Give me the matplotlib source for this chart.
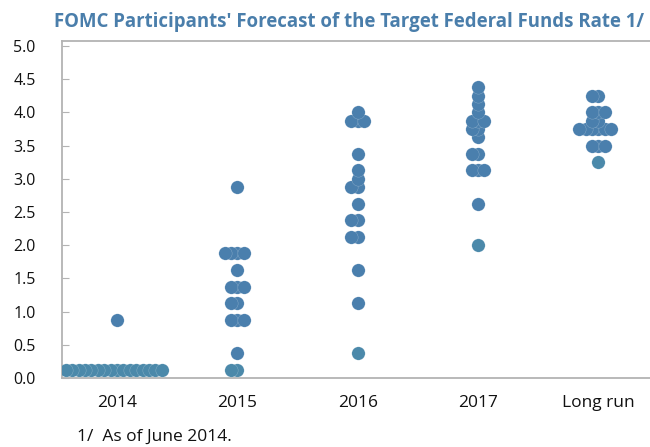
import numpy as np
import matplotlib.pyplot as plt

plt.rcParams["font.family"] = ["Open Sans", "DejaVu Sans"]

# categories and forecasts (rate level, number of participants)
categories = ["2014", "2015", "2016", "2017", "Long run"]

levels_2014 = [0.125, 0.875]
counts_2014 = [16, 1]

levels_2015 = [0.125, 0.375, 0.875, 1.125, 1.375, 1.625, 1.875, 2.875]
counts_2015 = [2, 1, 3, 2, 3, 1, 4, 1]

levels_2016 = [0.375, 1.125, 1.625, 2.125, 2.375, 2.625, 2.875, 3.0, 3.125, 3.375, 3.875, 4.0]
counts_2016 = [1, 1, 1, 2, 2, 1, 2, 1, 1, 1, 3, 1]

levels_2017 = [2.0, 2.625, 3.125, 3.375, 3.625, 3.75, 3.875, 4.0, 4.125, 4.25, 4.375]
counts_2017 = [1, 1, 3, 2, 1, 2, 3, 1, 1, 1, 1]

levels_lr = [3.25, 3.5, 3.75, 3.875, 4.0, 4.25]
counts_lr = [1, 3, 6, 2, 3, 2]

yticks = [0.0, 0.5, 1.0, 1.5, 2.0, 2.5, 3.0, 3.5, 4.0, 4.5, 5.0]

all_levels = [levels_2014, levels_2015, levels_2016, levels_2017, levels_lr]
all_counts = [counts_2014, counts_2015, counts_2016, counts_2017, counts_lr]

dot_color = "#4a7fad"
low_color = "#4b89aa"
title_color = "#4a7eab"
spine_color = "#b3b3b3"
step = 0.053  # horizontal spacing between dots sharing a level

fig = plt.figure(figsize=(6.5, 4.47), dpi=100)
ax = fig.add_axes([0.0954, 0.1544, 0.9046, 0.7539])

for i, (levels, counts) in enumerate(zip(all_levels, all_counts)):
    for j, (lv, n) in enumerate(zip(levels, counts)):
        k = np.arange(n)
        offs = np.where(k % 2 == 1, -(k + 1) // 2, k // 2)
        ax.scatter(i + offs * step, np.full(n, lv), s=92,
                   color=low_color if j == 0 else dot_color,
                   edgecolors=(1, 1, 1, 0.35), linewidths=0.3, zorder=3)

ax.set_xlim(-0.457, 4.43)
ax.set_ylim(0, 5.075)
ax.set_yticks(yticks)
ax.set_yticklabels([f"{v:.1f}" for v in yticks])
ax.set_xticks(range(len(categories)))
ax.set_xticklabels(categories)

for s in ["left", "bottom", "top"]:
    ax.spines[s].set_color(spine_color)
    ax.spines[s].set_linewidth(1.3)
ax.spines["right"].set_visible(False)
ax.tick_params(axis="y", direction="in", length=5, color=spine_color,
               labelsize=11.5, pad=19, labelcolor="#111111")
ax.tick_params(axis="x", length=0, labelsize=12.5, pad=12, labelcolor="#111111")

fig.text(0.537, 0.950, "FOMC Participants' Forecast of the Target Federal Funds Rate 1/",
         ha="center", va="center", fontsize=13.4, fontweight="bold", color=title_color)
fig.text(0.118, 0.004, "1/  As of June 2014.", ha="left", va="bottom",
         fontsize=12.5, color="#111111")

fig.savefig("out.png", dpi=100)
